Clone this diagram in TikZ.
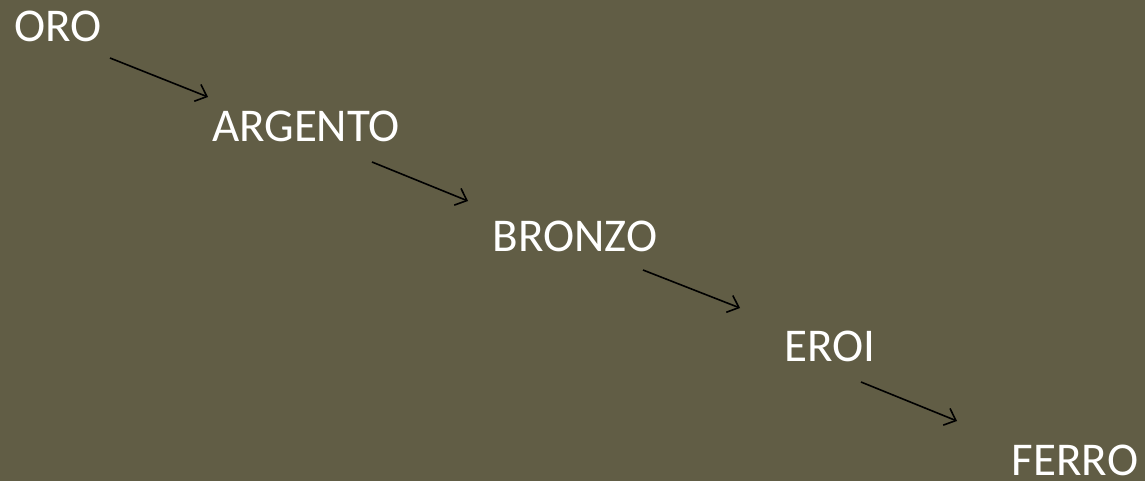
\documentclass[tikz,border=0pt]{standalone}
\usepackage{fontspec}
\setmainfont{Carlito}
\usetikzlibrary{arrows.meta}
\definecolor{bg}{RGB}{97,93,69}
\tikzset{
  lbl/.style={text=white, font=\fontsize{47}{47}\selectfont, inner sep=0pt, anchor=base},
  arr/.style={draw=black, line width=1.6pt, -{Straight Barb[length=10pt,width=18pt,line width=1.6pt]}}
}
\begin{document}
\begin{tikzpicture}[x=1pt,y=-1pt]
\fill[bg] (0,0) rectangle (1145,481);
\useasboundingbox (0,0) rectangle (1145,481);
\node[lbl] (oro) at (58,42) {ORO};
\node[lbl] (argento) at (306,142) {ARGENTO};
\node[lbl] (bronzo) at (575,251) {BRONZO};
\node[lbl] (eroi) at (830,361) {EROI};
\node[lbl] (ferro) at (1075,475) {FERRO};
\coordinate (a1s) at (110,58); \coordinate (a1e) at (208,97);
\coordinate (a2s) at (372,162); \coordinate (a2e) at (468,201);
\coordinate (a3s) at (643,270); \coordinate (a3e) at (740,308);
\coordinate (a4s) at (861,382); \coordinate (a4e) at (957,421);
\draw[arr] (a1s) -- (a1e);
\draw[arr] (a2s) -- (a2e);
\draw[arr] (a3s) -- (a3e);
\draw[arr] (a4s) -- (a4e);
\end{tikzpicture}
\end{document}
